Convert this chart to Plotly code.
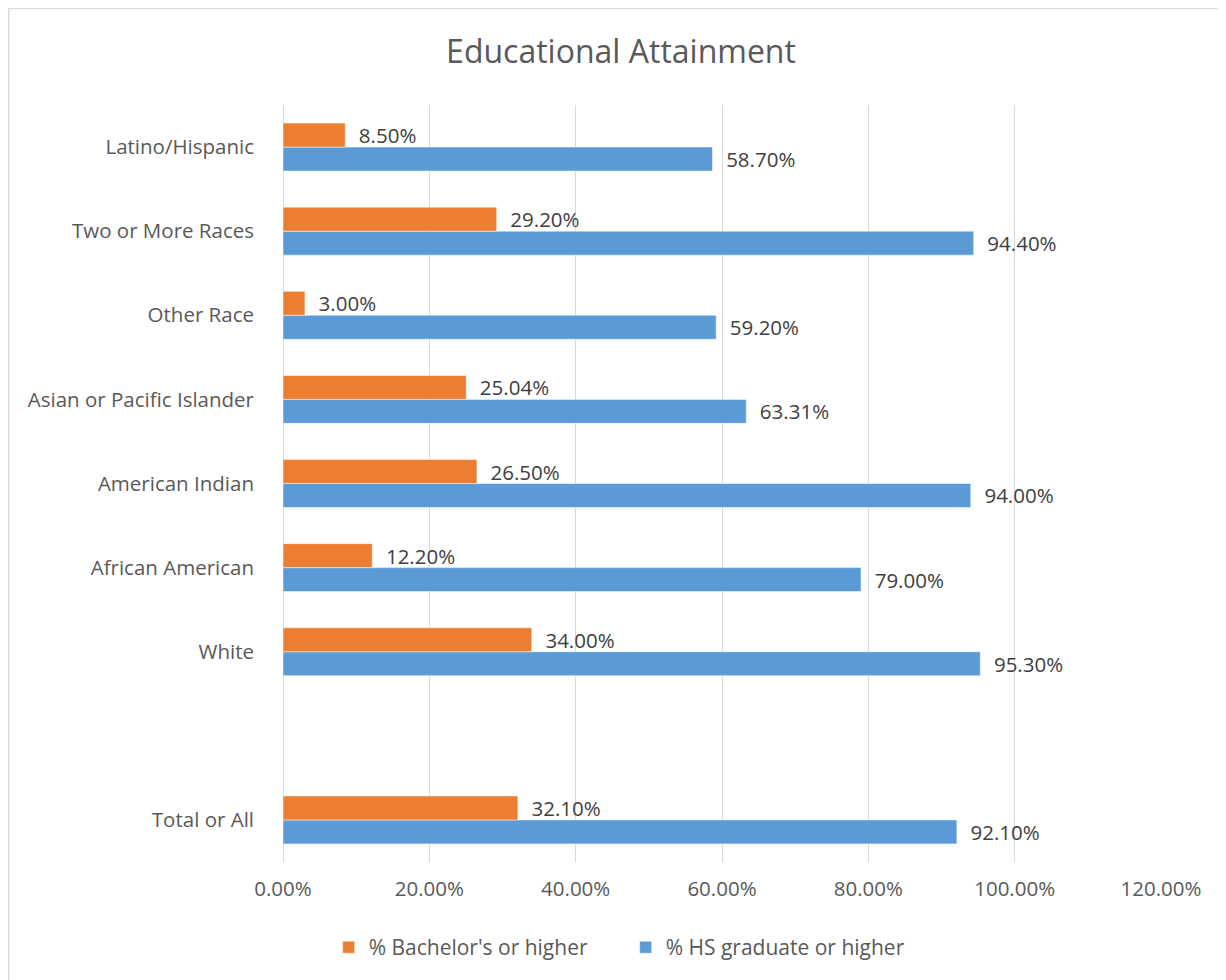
import plotly.graph_objects as go

categories = ["Total or All", " ", "White", "African American", "American Indian",
              "Asian or Pacific Islander", "Other Race", "Two or More Races", "Latino/Hispanic"]
bachelor = [0.321, None, 0.34, 0.122, 0.265, 0.2504, 0.03, 0.292, 0.085]
hs_grad = [0.921, None, 0.953, 0.79, 0.94, 0.6331, 0.592, 0.944, 0.587]
x_ticks = [0, 0.2, 0.4, 0.6, 0.8, 1.0, 1.2]

FONT = "Open Sans"
TXT = "#404040"
TICK = "#595959"

def labels(vals):
    return ["" if v is None else "  {:.2f}%".format(v * 100) for v in vals]

fig = go.Figure()
fig.add_trace(go.Bar(
    y=categories, x=hs_grad, orientation="h", name="% HS graduate or higher",
    marker=dict(color="#5B9BD5", line=dict(color="white", width=0.5)),
    text=labels(hs_grad), textposition="outside", cliponaxis=False, constraintext="none",
    textfont=dict(family=FONT, size=20.5, color=TXT),
))
fig.add_trace(go.Bar(
    y=categories, x=bachelor, orientation="h", name="% Bachelor's or higher",
    marker=dict(color="#ED7D31", line=dict(color="white", width=0.5)),
    text=labels(bachelor), textposition="outside", cliponaxis=False, constraintext="none",
    textfont=dict(family=FONT, size=20.5, color=TXT),
))

fig.update_layout(
    width=1226, height=980,
    paper_bgcolor="white", plot_bgcolor="white",
    margin=dict(l=275, r=73, t=97, b=126),
    barmode="group", bargap=0.43, bargroupgap=0,
    title=dict(text="Educational Attainment", x=0.5, xref="container", xanchor="center",
               y=0.955, yref="container", yanchor="middle",
               font=dict(family=FONT, size=32, color=TICK)),
    xaxis=dict(range=[0, 1.2], tickvals=x_ticks, tickformat=".2%",
               showgrid=True, gridcolor="#D9D9D9", gridwidth=1,
               zeroline=True, zerolinecolor="#D9D9D9", zerolinewidth=1,
               showline=False, ticks="", ticklabelstandoff=12,
               tickfont=dict(family=FONT, size=20.5, color=TICK)),
    yaxis=dict(categoryorder="array", categoryarray=categories,
               showgrid=False, showline=False, ticks="", ticklabelstandoff=28,
               tickfont=dict(family=FONT, size=20.5, color=TICK)),
    legend=dict(orientation="h", x=0.052, xanchor="left", y=-0.113, yanchor="middle",
                traceorder="reversed", font=dict(family=FONT, size=21, color=TICK),
                entrywidth=252, entrywidthmode="pixels"),
    shapes=[
        dict(type="line", xref="paper", yref="paper",
             x0=-0.3126, x1=-0.3126, y0=-0.17, y1=1.1275,
             line=dict(color="#D9D9D9", width=1.5)),
        dict(type="line", xref="paper", yref="paper",
             x0=-0.3126, x1=1.09, y0=1.1275, y1=1.1275,
             line=dict(color="#D9D9D9", width=1.5)),
    ],
)

fig.write_html("out.html")
